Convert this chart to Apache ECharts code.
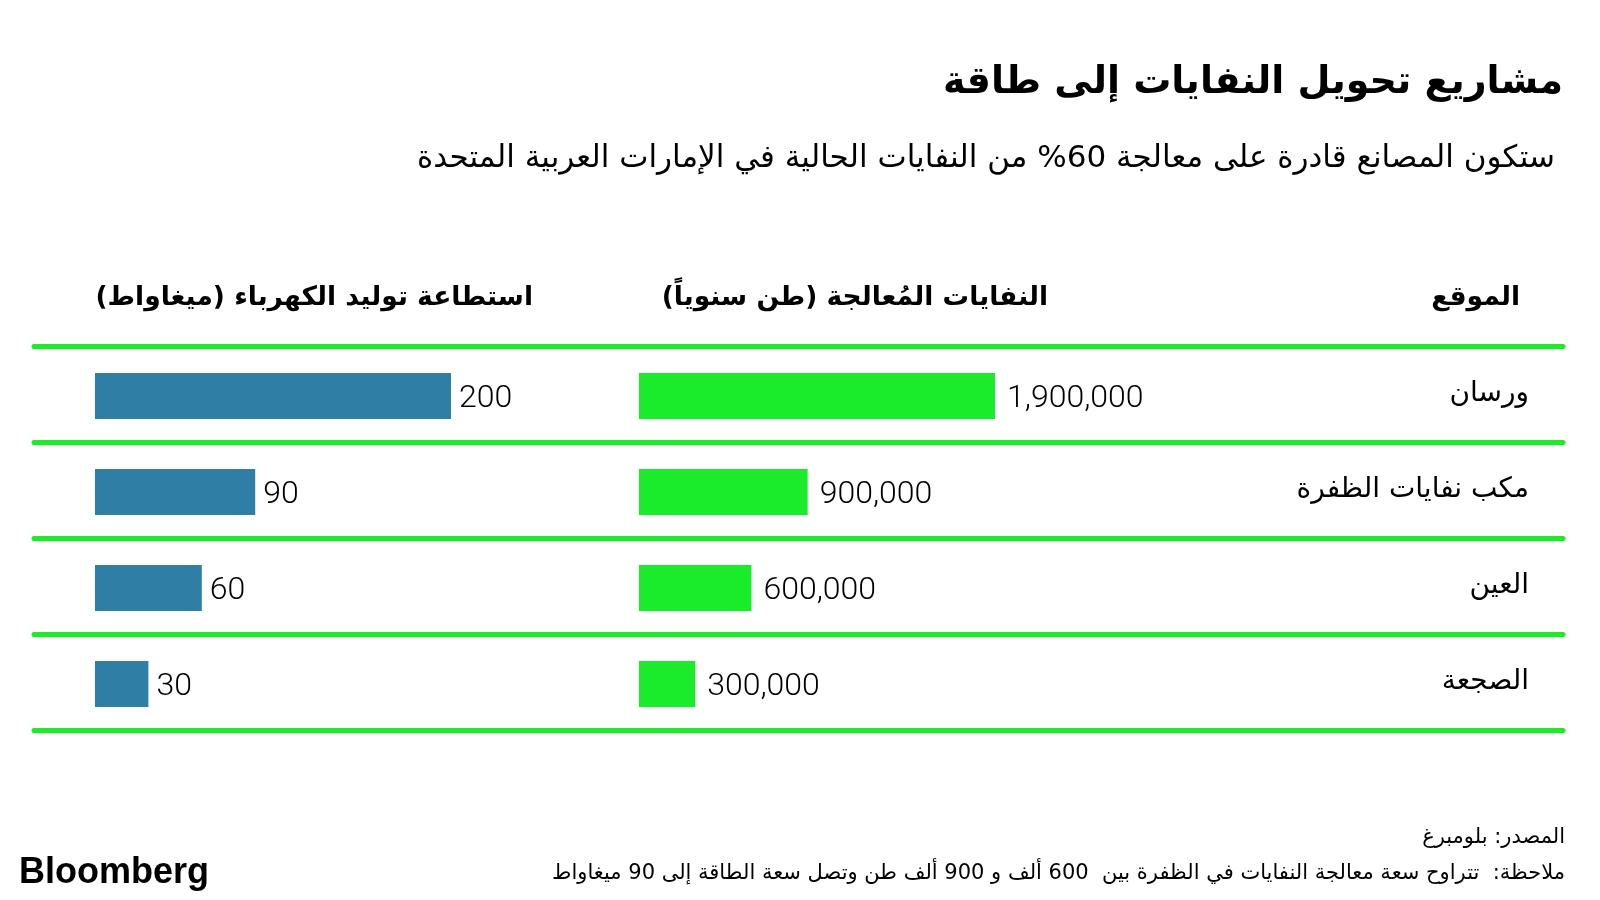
<!DOCTYPE html>
<html dir="rtl">
<head>
<meta charset="utf-8">
<script src="https://cdn.jsdelivr.net/npm/echarts@6/dist/echarts.min.js"></script>
<style>
html,body{margin:0;padding:0;background:#fff;}
#chart{width:1600px;height:900px;}
</style>
</head>
<body>
<div id="chart"></div>
<script>
// ---- data ----
const sites = ['ورسان', 'مكب نفايات الظفرة', 'العين', 'الصجعة'];
const wasteTons = [1900000, 900000, 600000, 300000];
const powerMW = [200, 90, 60, 30];
const headers = ['الموقع', 'النفايات المُعالجة (طن سنوياً)', 'استطاعة توليد الكهرباء (ميغاواط)'];
const titleText = 'مشاريع تحويل النفايات إلى طاقة';
const subtitleText = 'ستكون المصانع قادرة على معالجة 60% من النفايات الحالية في الإمارات العربية المتحدة';
const sourceText = 'المصدر: بلومبرغ';
const noteText = 'ملاحظة:  تتراوح سعة معالجة النفايات في الظفرة بين  600 ألف و 900 ألف طن وتصل سعة الطاقة إلى 90 ميغاواط';

const GREEN = '#1aeb2a';
const BLUE = '#2e7ea6';
const AR = "'DejaVu Sans', sans-serif";
const NUM = "Roboto, 'DejaVu Sans', sans-serif";

const chart = echarts.init(document.getElementById('chart'));

function txt(x, y, text, size, weight, color, align) {
  return {
    type: 'text', x: x, y: y,
    style: {
      text: text, fill: color || '#000',
      font: (weight || 'normal') + ' ' + size + 'px ' + AR,
      align: align || 'right', verticalAlign: 'middle'
    }
  };
}

const option = {
  backgroundColor: '#fff',
  animation: false,
  grid: [
    {left: 34, right: 37, top: 346, height: 384},
    {left: 639, width: 356, top: 348, height: 384},
    {left: 95, width: 356, top: 348, height: 384}
  ],
  xAxis: [
    {gridIndex: 0, type: 'value', show: false, min: 0, max: 1},
    {gridIndex: 1, type: 'value', show: false, min: 0, max: 1900000},
    {gridIndex: 2, type: 'value', show: false, min: 0, max: 200}
  ],
  yAxis: [
    {
      gridIndex: 0, type: 'category', data: sites, inverse: true, position: 'right',
      axisLine: {show: false}, axisTick: {show: false},
      axisLabel: {
        inside: true, margin: 34, color: '#000', fontSize: 28,
        fontFamily: AR, padding: [0, 0, 16, 0]
      },
      splitLine: {show: true, lineStyle: {color: GREEN, width: 5, cap: 'round'}}
    },
    {gridIndex: 1, type: 'category', data: sites, inverse: true, show: false},
    {gridIndex: 2, type: 'category', data: sites, inverse: true, show: false}
  ],
  series: [
    {
      type: 'bar', xAxisIndex: 1, yAxisIndex: 1, data: wasteTons, barWidth: 46,
      itemStyle: {color: GREEN},
      label: {
        show: true, position: 'right', distance: 12, color: '#000',
        fontSize: 32, fontWeight: 300, fontFamily: NUM, offset: [0, 3],
        formatter: p => p.value.toLocaleString('en-US')
      }
    },
    {
      type: 'bar', xAxisIndex: 2, yAxisIndex: 2, data: powerMW, barWidth: 46,
      itemStyle: {color: BLUE},
      label: {
        show: true, position: 'right', distance: 8, color: '#000',
        fontSize: 32, fontWeight: 300, fontFamily: NUM, offset: [0, 3]
      }
    }
  ],
  graphic: [
    txt(1563, 83, titleText, 38, 'bold'),
    txt(1555, 159, subtitleText, 31, 'normal'),
    txt(1520, 298, headers[0], 26.5, 'bold'),
    txt(1048, 298, headers[1], 26.5, 'bold'),
    txt(533, 298, headers[2], 26.5, 'bold'),
    txt(1565, 838, sourceText, 21, 'normal'),
    txt(1565, 874, noteText, 21, 'normal'),
    {
      type: 'text', x: 19, y: 873,
      style: {text: 'Bloomberg', fill: '#000', font: "bold 36px 'Liberation Sans', Arial, sans-serif",
        align: 'left', verticalAlign: 'middle'}
    }
  ]
};
chart.setOption(option);
</script>
</body>
</html>
